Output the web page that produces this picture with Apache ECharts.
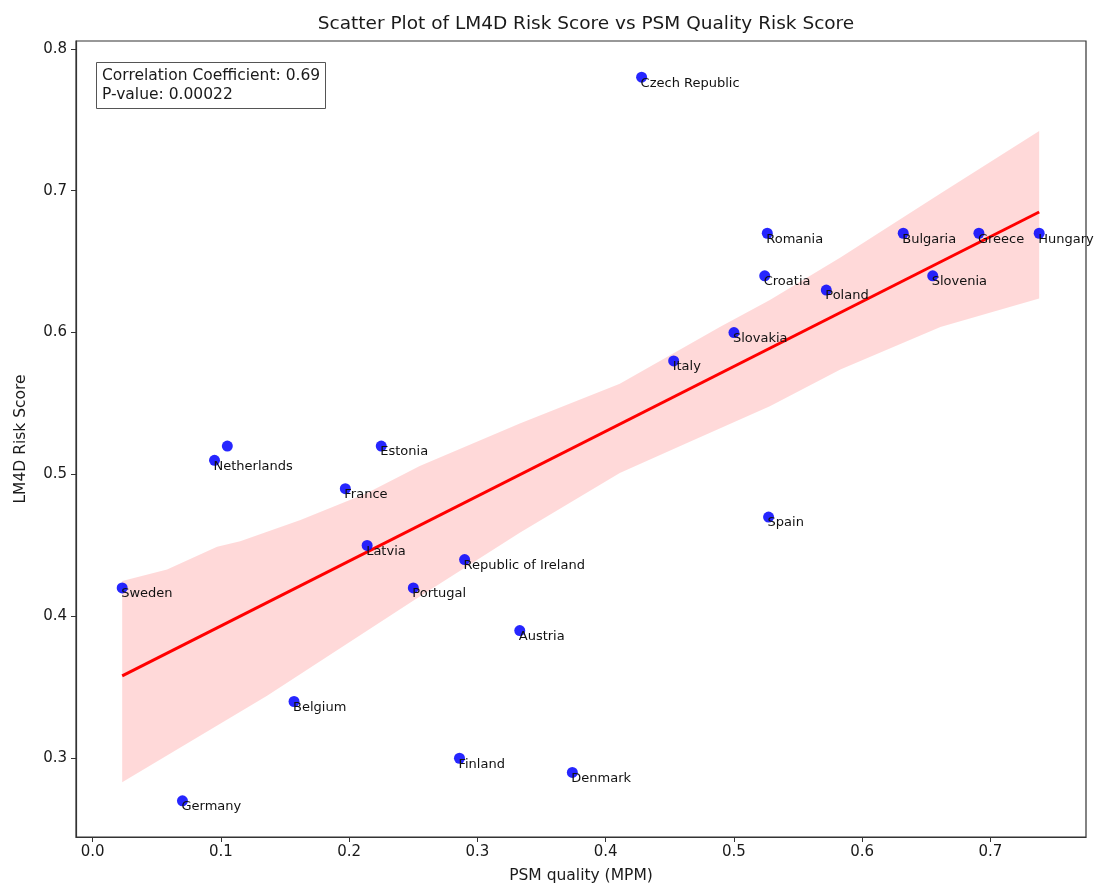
<!DOCTYPE html>
<html>
<head>
<meta charset="utf-8">
<script src="https://cdn.jsdelivr.net/npm/echarts@6/dist/echarts.min.js"></script>
<style>
html,body{margin:0;padding:0;background:#fff;}
#chart{width:1097px;height:889px;}
</style>
</head>
<body>
<div id="chart"></div>
<script>
// ---- data ----
var countries = ["Czech Republic","Romania","Croatia","Poland","Bulgaria","Greece","Hungary","Slovenia","Slovakia","Italy","Spain","Netherlands","","Estonia","France","Latvia","Republic of Ireland","Portugal","Sweden","Austria","Belgium","Germany","Finland","Denmark"];
var psmQuality = [0.428,0.526,0.524,0.572,0.632,0.691,0.738,0.655,0.500,0.453,0.527,0.095,0.105,0.225,0.197,0.214,0.290,0.250,0.023,0.333,0.157,0.070,0.286,0.374];
var lm4dRisk   = [0.78,0.67,0.64,0.63,0.67,0.67,0.67,0.64,0.60,0.58,0.47,0.51,0.52,0.52,0.49,0.45,0.44,0.42,0.42,0.39,0.34,0.27,0.30,0.29];
// regression line end points
var fitX = [0.023, 0.738];
var fitY = [0.358, 0.685];
// confidence band edges
var bandUpperX = [0.023,0.058,0.097,0.115,0.162,0.214,0.255,0.333,0.411,0.489,0.528,0.583,0.661,0.738];
var bandUpperY = [0.425,0.433,0.449,0.453,0.468,0.487,0.506,0.536,0.564,0.604,0.623,0.653,0.698,0.742];
var bandLowerX = [0.023,0.136,0.255,0.333,0.411,0.463,0.528,0.583,0.661,0.738];
var bandLowerY = [0.283,0.344,0.414,0.459,0.501,0.522,0.548,0.574,0.604,0.624];
// ticks
var xTicks = [0.0,0.1,0.2,0.3,0.4,0.5,0.6,0.7];
var yTicks = [0.3,0.4,0.5,0.6,0.7,0.8];
var statsText = ["Correlation Coefficient: 0.69","P-value: 0.00022"];

var FONT = "DejaVu Sans";
var chart = echarts.init(document.getElementById('chart'), null, {renderer:'canvas'});

var pts = countries.map(function(c,i){ return {name:c, value:[psmQuality[i], lm4dRisk[i]]}; });
var fitData = fitX.map(function(x,i){ return [x, fitY[i]]; });

var option = {
  backgroundColor:'#fff',
  animation:false,
  title:[{
    text:'Scatter Plot of LM4D Risk Score vs PSM Quality Risk Score',
    left:581, top:10, textAlign:'center',
    textStyle:{fontFamily:FONT, fontSize:18.5, fontWeight:'normal', color:'#1a1a1a'}
  },{
    text: statsText.join('\n'),
    left:96, top:62,
    padding:[4,6,5,6],
    borderColor:'#555', borderWidth:1, backgroundColor:'#fff',
    textStyle:{fontFamily:FONT, fontSize:15.5, fontWeight:'normal', color:'#1a1a1a', lineHeight:19}
  }],
  grid:{left:76, right:11, top:41, bottom:51, show:true, borderColor:'#333', borderWidth:1.2, backgroundColor:'transparent'},
  xAxis:{
    type:'value', min:-0.013, max:0.7745,
    name:'PSM quality (MPM)', nameLocation:'middle', nameGap:31,
    nameTextStyle:{fontFamily:FONT, fontSize:15.5, color:'#1a1a1a'},
    axisLine:{show:true, onZero:false, lineStyle:{color:'#333', width:1.2}},
    axisTick:{show:true, inside:false, length:5, customValues:xTicks, lineStyle:{color:'#333'}},
    axisLabel:{customValues:xTicks, fontFamily:FONT, fontSize:15, color:'#1a1a1a', margin:8,
      formatter:function(v){return v.toFixed(1);}},
    splitLine:{show:false}
  },
  yAxis:{
    type:'value', min:0.2445, max:0.8055,
    name:'LM4D Risk Score', nameLocation:'middle', nameGap:47,
    nameTextStyle:{fontFamily:FONT, fontSize:15.5, color:'#1a1a1a'},
    axisLine:{show:true, onZero:false, lineStyle:{color:'#333', width:1.2}},
    axisTick:{show:true, inside:false, length:5, customValues:yTicks, lineStyle:{color:'#333'}},
    axisLabel:{customValues:yTicks, fontFamily:FONT, fontSize:15, color:'#1a1a1a', margin:9,
      formatter:function(v){return v.toFixed(1);}},
    splitLine:{show:false}
  },
  series:[{
    type:'custom',
    z:1,
    silent:true,
    data:[0],
    renderItem:function(params, api){
      var p = [];
      for (var i=0;i<bandUpperX.length;i++) p.push(api.coord([bandUpperX[i], bandUpperY[i]]));
      for (var j=bandLowerX.length-1;j>=0;j--) p.push(api.coord([bandLowerX[j], bandLowerY[j]]));
      return {type:'polygon', shape:{points:p}, style:{fill:'rgba(255,0,0,0.15)', stroke:null}};
    }
  },{
    type:'line',
    z:2,
    data:fitData,
    symbol:'none',
    lineStyle:{color:'#ff0000', width:3},
    silent:true
  },{
    type:'scatter',
    z:3,
    data:pts,
    symbolSize:11,
    itemStyle:{color:'#0000ff', opacity:0.85},
    label:{
      show:true, formatter:'{b}', position:['50%','50%'],
      align:'left', verticalAlign:'middle', offset:[-1,6],
      fontFamily:FONT, fontSize:13, color:'#111', opacity:1
    }
  }]
};
chart.setOption(option);
</script>
</body>
</html>
